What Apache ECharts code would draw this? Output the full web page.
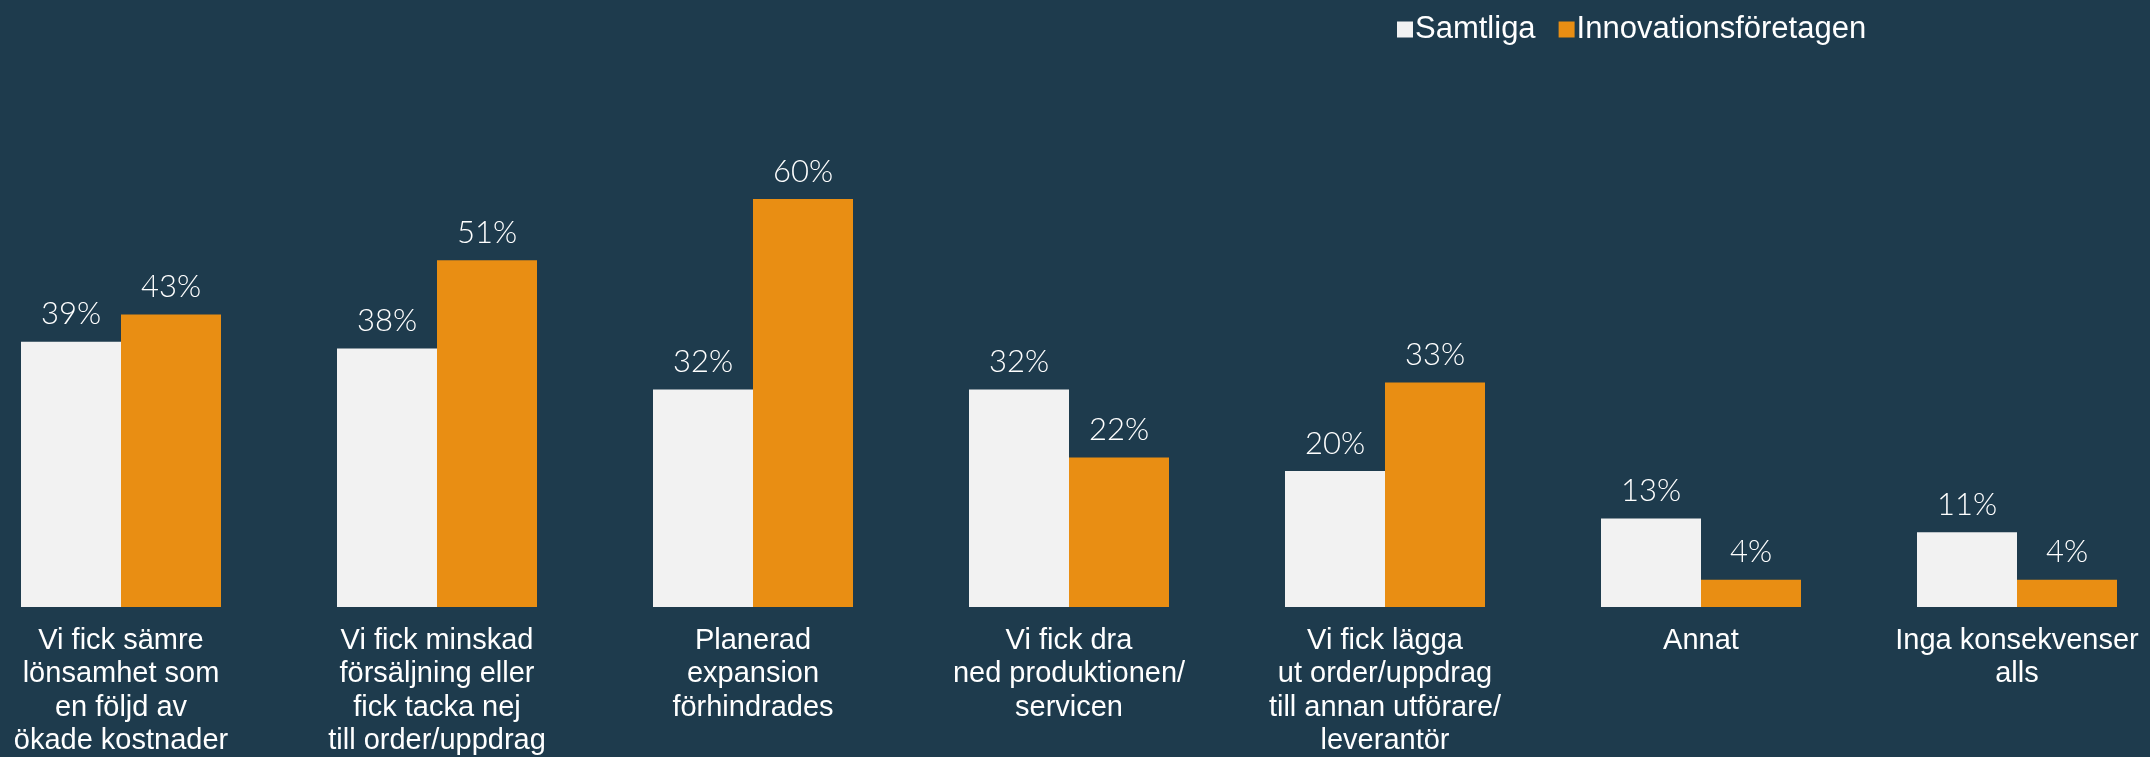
<!DOCTYPE html>
<html>
<head>
<meta charset="utf-8">
<script src="https://cdn.jsdelivr.net/npm/echarts@6/dist/echarts.min.js"></script>
<style>
  html, body { margin: 0; padding: 0; background: #1e3b4d; }
  #chart { width: 2150px; height: 757px; }
</style>
</head>
<body>
<div id="chart"></div>
<script>
const categories = [
  'Vi fick sämre\nlönsamhet som\nen följd av\nökade kostnader',
  'Vi fick minskad\nförsäljning eller\nfick tacka nej\ntill order/uppdrag',
  'Planerad\nexpansion\nförhindrades',
  'Vi fick dra\nned produktionen/\nservicen',
  'Vi fick lägga\nut order/uppdrag\ntill annan utförare/\nleverantör',
  'Annat',
  'Inga konsekvenser\nalls'
]
const samtliga = [39, 38, 32, 32, 20, 13, 11]
const innovation = [43, 51, 60, 22, 33, 4, 4]

const chart = echarts.init(document.getElementById('chart'))

const barLabel = {
  show: true,
  position: 'top',
  distance: 12,
  color: '#ffffff',
  fontFamily: 'Lato',
  fontWeight: 300,
  fontSize: 31,
  formatter: '{c}%'
}

chart.setOption({
  backgroundColor: '#1e3b4d',
  animation: false,
  legend: {
    left: 1392,
    top: 9,
    icon: 'rect',
    itemWidth: 16,
    itemHeight: 16,
    itemGap: 23,
    textStyle: {
      color: '#ffffff',
      fontFamily: 'Liberation Sans',
      fontSize: 31,
      padding: [0, 0, 0, -3]
    },
    data: ['Samtliga', 'Innovationsföretagen']
  },
  grid: {
    left: 121,
    right: 133,
    top: 63,
    bottom: 150,
    outerBoundsMode: 'none'
  },
  xAxis: {
    type: 'category',
    data: categories,
    boundaryGap: false,
    axisLine: { show: false },
    axisTick: { show: false },
    axisLabel: {
      margin: 17,
      interval: 0,
      color: '#ffffff',
      fontFamily: 'Liberation Sans',
      fontSize: 29,
      lineHeight: 33.5
    }
  },
  yAxis: {
    type: 'value',
    min: 0,
    max: 80,
    show: false,
    splitLine: { show: false }
  },
  series: [
    {
      name: 'Samtliga',
      type: 'bar',
      data: samtliga,
      barWidth: 100,
      barGap: '0%',
      itemStyle: { color: '#f2f2f2' },
      label: barLabel
    },
    {
      name: 'Innovationsföretagen',
      type: 'bar',
      data: innovation,
      barWidth: 100,
      barGap: '0%',
      itemStyle: { color: '#e98e13' },
      label: barLabel
    }
  ]
})
</script>
</body>
</html>
